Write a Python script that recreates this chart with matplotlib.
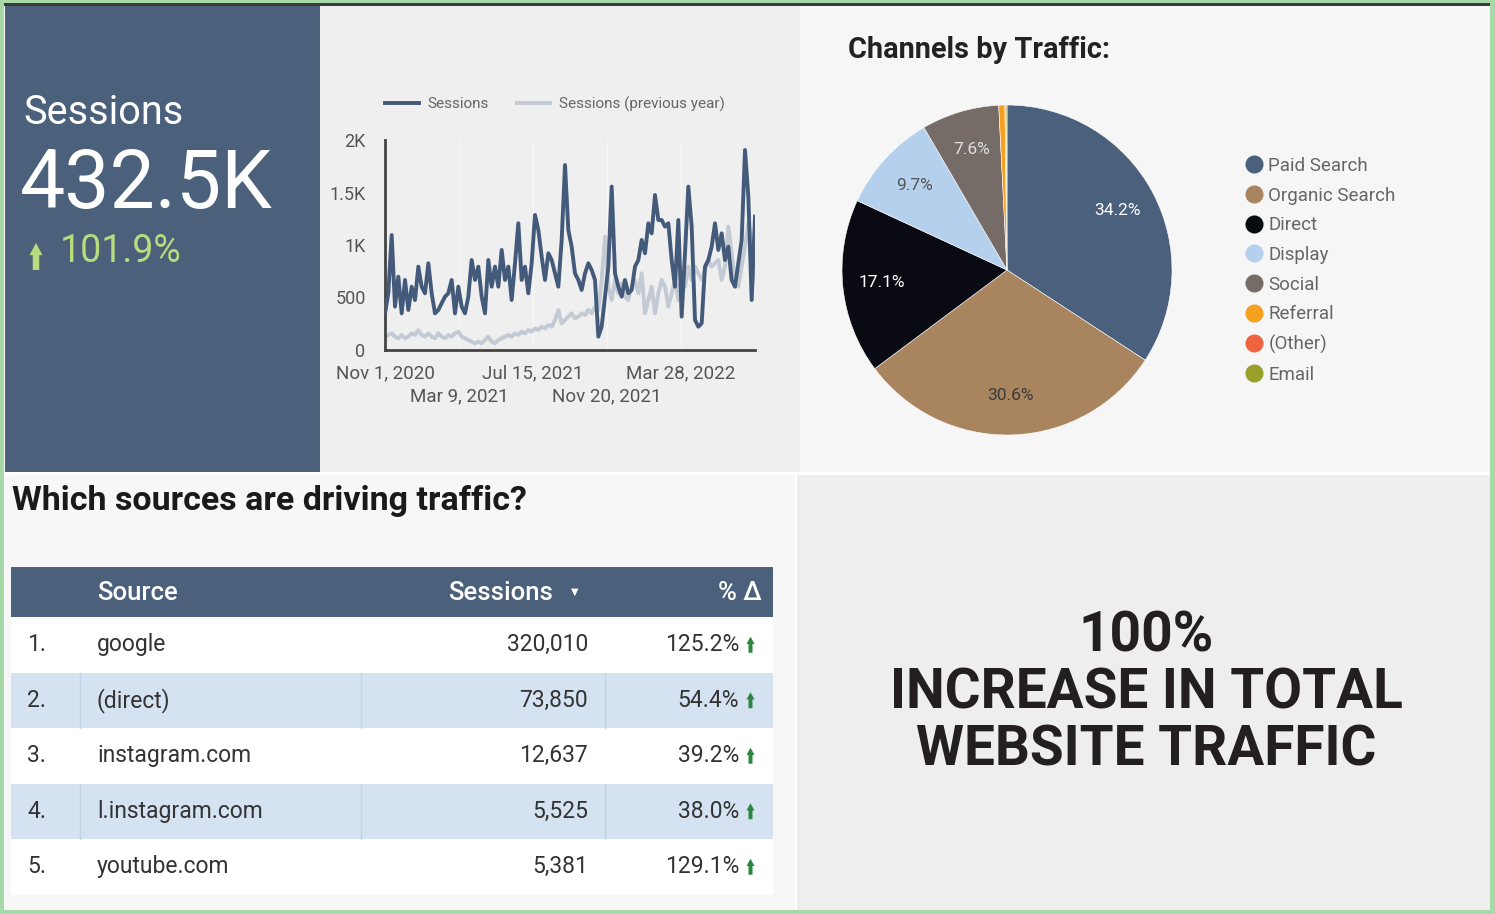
import numpy as np
import pandas as pd
import matplotlib
matplotlib.use('Agg')
import matplotlib.pyplot as plt
from matplotlib.patches import Rectangle, Polygon
from matplotlib.lines import Line2D

plt.rcParams['font.family'] = ['Roboto', 'DejaVu Sans']

W, H = 1495, 914

# ---- data ----
kpi_label = 'Sessions'
kpi_value = '432.5K'
kpi_change = '101.9%'

# daily sessions (approx. every 6 days from Nov 1, 2020)
sessions = [349, 540, 1095, 413, 698, 349, 667, 381, 603, 476, 794, 603, 540, 826, 540, 349,
            381, 445, 508, 540, 667, 349, 603, 413, 349, 508, 857, 667, 794, 508, 349, 857,
            603, 794, 603, 953, 667, 794, 476, 826, 1207, 667, 794, 540, 826, 1286, 1143, 889,
            667, 921, 857, 730, 603, 1048, 1762, 1143, 984, 730, 667, 572, 730, 826, 762, 667,
            127, 222, 508, 794, 1556, 730, 603, 508, 667, 540, 572, 794, 857, 1048, 921, 1207,
            1111, 1476, 1238, 1238, 1175, 1207, 857, 603, 1238, 318, 921, 1556, 1175, 286, 222, 254,
            794, 857, 984, 1207, 953, 1111, 857, 984, 667, 603, 826, 1048, 1905, 1461, 476, 1270]
sessions_prev = [127, 143, 159, 127, 111, 143, 111, 127, 159, 143, 190, 143, 127, 159, 127, 111,
                 159, 127, 111, 143, 127, 159, 175, 127, 111, 95, 79, 64, 79, 64, 95, 127,
                 79, 64, 95, 111, 127, 143, 127, 159, 143, 175, 159, 190, 175, 206, 190, 222,
                 206, 238, 222, 286, 381, 254, 286, 318, 349, 302, 318, 349, 333, 381, 349, 413,
                 381, 667, 1080, 603, 476, 667, 540, 635, 508, 476, 603, 667, 540, 730, 349, 476,
                 603, 349, 540, 667, 603, 413, 540, 667, 476, 730, 603, 794, 667, 794, 730, 667,
                 762, 857, 794, 826, 857, 667, 794, 1175, 921, 667, 603, 794, 984, 1207, 1048, 667]
start_date = '2020-11-01'
end_date = '2022-08-03'
x_row1_dates = ['2020-11-01', '2021-07-15', '2022-03-28']
x_row1_labels = ['Nov 1, 2020', 'Jul 15, 2021', 'Mar 28, 2022']
x_row2_dates = ['2021-03-09', '2021-11-20']
x_row2_labels = ['Mar 9, 2021', 'Nov 20, 2021']
y_ticks = [0, 500, 1000, 1500, 2000]
y_tick_labels = ['0', '500', '1K', '1.5K', '2K']

channels = ['Paid Search', 'Organic Search', 'Direct', 'Display', 'Social', 'Referral', '(Other)', 'Email']
channel_share = [34.2, 30.6, 17.1, 9.7, 7.6, 0.6, 0.1, 0.1]
channel_colors = ['#4b607d', '#a8845f', '#0a0a12', '#b5d0ec', '#756c67', '#f5a01e', '#ef6440', '#98a02a']
label_colors = ['white', '#3a3a3a', 'white', '#555555', '#e0e0e0']

ranks = ['1.', '2.', '3.', '4.', '5.']
sources = ['google', '(direct)', 'instagram.com', 'l.instagram.com', 'youtube.com']
source_sessions = [320010, 73850, 12637, 5525, 5381]
source_change = [125.2, 54.4, 39.2, 38.0, 129.1]

headline = ['100%', 'INCREASE IN TOTAL', 'WEBSITE TRAFFIC']

slate = '#4b607b'


def px_rect(x0, y0, w, h):
    return [x0 / W, 1 - (y0 + h) / H, w / W, h / H]


def up_arrow(ax, x, y, w, h, color):
    # x = centre, y = top of arrow (pixel coords, y down)
    head = h * 0.45
    pts = [(x, y), (x + w / 2, y + head), (x + w / 4, y + head), (x + w / 4, y + h),
           (x - w / 4, y + h), (x - w / 4, y + head), (x - w / 2, y + head)]
    ax.add_patch(Polygon(pts, closed=True, color=color, lw=0))


fig = plt.figure(figsize=(W / 100, H / 100), dpi=100)
fig.patch.set_facecolor('#a6d8a8')

bg = fig.add_axes([0, 0, 1, 1])
bg.set_xlim(0, W)
bg.set_ylim(H, 0)
bg.axis('off')

# panels
bg.add_patch(Rectangle((4, 3), 1486, 907, color='white', lw=0))
bg.add_patch(Rectangle((4, 3), 1486, 3, color='#3a3a3a', lw=0))
bg.add_patch(Rectangle((5, 6), 315, 466, color=slate, lw=0))
bg.add_patch(Rectangle((320, 6), 480, 466, color='#efefef', lw=0))
bg.add_patch(Rectangle((800, 6), 690, 466, color='#f6f6f6', lw=0))
bg.add_patch(Rectangle((5, 475), 790, 435, color='#f7f7f7', lw=0))
bg.add_patch(Rectangle((797, 475), 693, 435, color='#eeeeee', lw=0))

# KPI scorecard
bg.text(23, 113, kpi_label, color='white', fontsize=28.5, va='center', ha='left')
bg.text(20, 186, kpi_value, color='white', fontsize=58, va='center', ha='left')
bg.text(60, 252, kpi_change, color='#b5dd7d', fontsize=27, va='center', ha='left')
up_arrow(bg, 36, 243, 13, 27, '#b5dd7d')

# time series
ax = fig.add_axes(px_rect(385, 140, 370, 210))
dates = pd.date_range(start_date, end_date, periods=len(sessions))
ax.plot(dates, sessions_prev, color='#c3cad4', lw=2.8, label='Sessions (previous year)', zorder=2)
ax.plot(dates, sessions, color='#435a7a', lw=2.8, label='Sessions', zorder=3)
ax.set_xlim(pd.Timestamp(start_date), pd.Timestamp(end_date))
ax.set_ylim(0, 2000)
ax.patch.set_alpha(0)
for s in ['top', 'right']:
    ax.spines[s].set_visible(False)
for s in ['left', 'bottom']:
    ax.spines[s].set_color('#444444')
    ax.spines[s].set_linewidth(2)
ax.set_yticks(y_ticks)
ax.set_yticklabels(y_tick_labels)
ax.set_xticks([pd.Timestamp(d) for d in x_row1_dates])
ax.set_xticklabels(x_row1_labels)
ax.set_xticks([pd.Timestamp(d) for d in x_row2_dates], minor=True)
ax.set_xticklabels(x_row2_labels, minor=True)
ax.tick_params(axis='y', length=0, pad=14, labelsize=13, labelcolor='#555555')
ax.tick_params(axis='x', which='major', length=0, pad=10, labelsize=13.5, labelcolor='#555555')
ax.tick_params(axis='x', which='minor', length=0, pad=27, labelsize=13.5, labelcolor='#555555')
ax.grid(axis='x', which='both', color='#f6f6f6', lw=1)
ax.set_axisbelow(True)
h, l = ax.get_legend_handles_labels()
ax.legend(h[::-1], l[::-1], loc='lower center', bbox_to_anchor=(0.46, 1.07), ncol=2,
          frameon=False, fontsize=11, handlelength=2.2, handletextpad=0.6, columnspacing=1.8,
          labelcolor='#666666')

# pie
bg.text(848, 50, 'Channels by Traffic:', fontsize=20.8, fontweight='bold', color='#222222',
        va='center', ha='left')
axp = fig.add_axes(px_rect(842, 105, 330, 330))
wedges, texts, autotexts = axp.pie(channel_share, colors=channel_colors, startangle=90,
                                   counterclock=False, radius=1, pctdistance=0.76,
                                   autopct=lambda p: '%.1f%%' % p if p > 5 else '',
                                   wedgeprops=dict(edgecolor='white', linewidth=0.4),
                                   textprops=dict(fontsize=12.5))
for t, c in zip(autotexts, label_colors + ['white'] * 3):
    t.set_color(c)
axp.set_xlim(-1, 1)
axp.set_ylim(-1, 1)
axp.set_aspect('equal')
handles = [Line2D([], [], marker='o', ls='', markersize=13, markerfacecolor=c, markeredgecolor='none')
           for c in channel_colors]
fig.legend(handles, channels, loc='upper left', bbox_to_anchor=(1245 / W, 1 - 157 / H),
           frameon=False, fontsize=13.5, labelcolor='#666666', handletextpad=0.25,
           labelspacing=0.62, borderaxespad=0, borderpad=0, handlelength=1)

# table
bg.text(12, 501, 'Which sources are driving traffic?', fontsize=24.5, fontweight='bold',
        color='#1a1a1a', va='center', ha='left')
row_h = 55.5
top = 617
bg.add_patch(Rectangle((11, 567), 762, 50, color=slate, lw=0))
bg.add_patch(Rectangle((11, top), 762, row_h * 5, color='white', lw=0))
bg.text(97, 593, 'Source', color='white', fontsize=18.5, fontweight='medium', va='center')
bg.text(553, 593, 'Sessions', color='white', fontsize=18.5, fontweight='medium', va='center', ha='right')
bg.text(575, 592, '▼', color='white', fontsize=7, va='center', ha='center', family='DejaVu Sans')
bg.text(762, 593, '% Δ', color='white', fontsize=18.5, fontweight='medium', va='center', ha='right')
for i in range(len(sources)):
    y0 = top + i * row_h
    yc = y0 + row_h / 2
    if i % 2 == 1:
        bg.add_patch(Rectangle((11, y0), 762, row_h, color='#d4e2f2', lw=0))
        for xd in [80, 361, 605]:
            bg.plot([xd, xd], [y0, y0 + row_h], color='#c3d3e6', lw=1)
    bg.text(27, yc, ranks[i], color='#333333', fontsize=16.5, va='center')
    bg.text(97, yc, sources[i], color='#333333', fontsize=16.5, va='center')
    bg.text(588, yc, '{:,}'.format(source_sessions[i]), color='#333333', fontsize=16.5,
            va='center', ha='right')
    bg.text(739, yc, '%.1f%%' % source_change[i], color='#333333', fontsize=16.5,
            va='center', ha='right')
    up_arrow(bg, 750.5, yc - 8, 8, 16, '#2e8540')

# headline
for i, line in enumerate(headline):
    bg.text(1146, 636 + i * 57.5, line, fontsize=39.5, fontweight='bold',
            color='#231f20', ha='center', va='center')

fig.savefig('out.png', dpi=100)
